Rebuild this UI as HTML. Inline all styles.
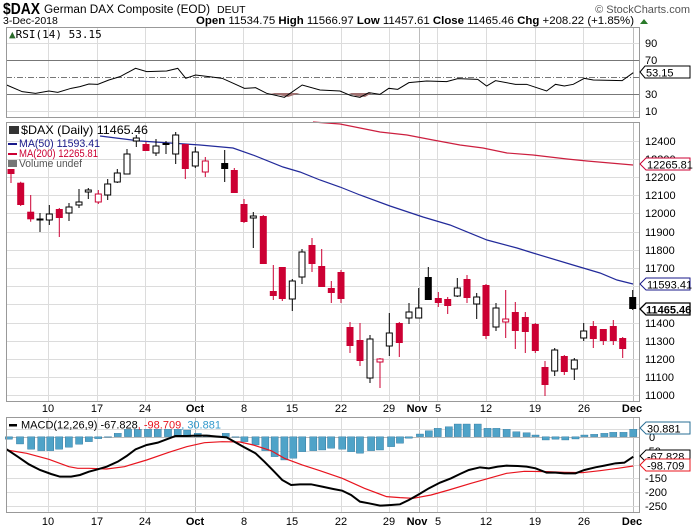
<!DOCTYPE html>
<html><head><meta charset="utf-8"><style>
body{margin:0;background:#fff}
svg{display:block;font-family:"Liberation Sans",sans-serif}
</style></head><body>
<svg width="696" height="532" viewBox="0 0 696 532" xmlns="http://www.w3.org/2000/svg">
<rect width="696" height="532" fill="#fff"/>
<!-- header -->
<text x="3" y="14" font-size="16" font-weight="bold" textLength="37" lengthAdjust="spacingAndGlyphs">$DAX</text>
<text x="44" y="13" font-size="11.5" textLength="166" lengthAdjust="spacingAndGlyphs">German DAX Composite (EOD)</text>
<text x="217" y="13" font-size="10.5">DEUT</text>
<text x="3" y="24" font-size="10.5">3-Dec-2018</text>
<text x="690" y="13" font-size="11" fill="#555" text-anchor="end">© StockCharts.com</text>
<text x="196" y="24" font-size="11" textLength="438" lengthAdjust="spacingAndGlyphs"><tspan font-weight="bold">Open</tspan> 11534.75 <tspan font-weight="bold">High</tspan> 11566.97 <tspan font-weight="bold">Low</tspan> 11457.61 <tspan font-weight="bold">Close</tspan> 11465.46 <tspan font-weight="bold">Chg</tspan> +208.22 (+1.85%)</text>
<polygon points="640,24 644,19 648,24" fill="#2a7a2a"/>

<!-- vertical grid -->
<g stroke="#dcdcdc" stroke-width="1">
<path d="M48.5 28V118M97.5 28V118M145.5 28V118M243.5 28V118M292.5 28V118M341.5 28V118M389.5 28V118M437.5 28V118M486.5 28V118M535.5 28V118M583.5 28V118"/>
<path d="M48.5 123V402M97.5 123V402M145.5 123V402M243.5 123V402M292.5 123V402M341.5 123V402M389.5 123V402M437.5 123V402M486.5 123V402M535.5 123V402M583.5 123V402"/>
<path d="M48.5 417V513M97.5 417V513M145.5 417V513M243.5 417V513M292.5 417V513M341.5 417V513M389.5 417V513M437.5 417V513M486.5 417V513M535.5 417V513M583.5 417V513"/>
</g>
<g stroke="#bcbcbc">
<path d="M195.5 28V118M419.5 28V118M633.5 28V118M195.5 123V402M419.5 123V402M633.5 123V402M195.5 417V513M419.5 417V513M633.5 417V513"/>
</g>

<!-- RSI panel -->
<g stroke="#dcdcdc"><path d="M6 43.5H640M6 111.5H640"/></g>
<g stroke="#777"><path d="M6 60.5H640M6 94.5H640"/></g>
<path d="M6 77.5H640" stroke="#777" stroke-dasharray="6,2,1,2"/>
<polygon points="270,93 288,97 300,93" fill="#a07070"/>
<polygon points="349,93 356,96 365,97 372,93" fill="#a07070"/>
<g transform="scale(0.4444,0.3333)">
<polyline fill="none" stroke="#000" stroke-width="1" vector-effect="non-scaling-stroke" points="15,255 50,275 80,280 110,273 130,277 160,265 180,260 200,252 220,253 245,240 270,230 305,205 330,215 375,213 400,205 418,235 440,225 470,230 500,235 525,250 550,265 575,263 600,280 640,292 680,255 720,270 765,273 790,287 810,292 830,278 855,283 875,265 895,268 920,248 960,243 1005,245 1030,236 1075,238 1095,258 1115,242 1160,253 1185,253 1230,273 1250,253 1270,258 1290,253 1315,235 1335,240 1400,242 1425,218"/>
</g>
<rect x="6.5" y="27.5" width="633" height="90" fill="none" stroke="#999"/>
<text x="9" y="38" font-size="11" font-family="'DejaVu Sans Mono',monospace" fill="#000"><tspan fill="#2a6a2a">▲</tspan>RSI(14) 53.15</text>
<g font-size="11" fill="#000">
<text x="645" y="47">90</text><text x="645" y="64">70</text><text x="645" y="98">30</text><text x="645" y="115">10</text>
</g>
<polygon points="640,72 645,66 690,66 690,78 645,78" fill="#fff" stroke="#000"/>
<text x="646" y="76.5" font-size="11">53.15</text>

<!-- MAIN panel grid -->
<g stroke="#dcdcdc"><path d="M6 395.5H640M6 377.5H640M6 359.5H640M6 341.5H640M6 323.5H640M6 304.5H640M6 286.5H640M6 268.5H640M6 250.5H640M6 232.5H640M6 213.5H640M6 195.5H640M6 177.5H640M6 159.5H640M6 141.5H640"/></g>

<!-- MA lines -->
<polyline fill="none" stroke="#cc1f3f" stroke-width="1.2" points="313,122 340,124 360,128 380,132 407,135 433,140 460,145 483,148 507,153 533,155 567,159 587,161 610,163 633,165"/>
<polyline fill="none" stroke="#222a9a" stroke-width="1.2" points="100,136 140,141 200,145 233,148 253,155 283,167 300,172 320,180 340,187 360,195 390,206 423,217 450,225 487,240 517,248 533,253 573,265 600,273 617,280 633,284"/>

<!-- candles wicks -->
<g stroke-width="1">
<path stroke="#cc0033" d="M11 169V183M20.7 181.7V206M30.7 195V221.7M59.3 208V237M146 142V151M185.3 144V179M234.3 168V193M244 199V223M263.3 215V264M273.3 265V300M282.3 267V301M312 238V272M321.7 249V287M331.3 281V303M341 270V303M350 322V353M360 323V366M399.3 322V357M438.3 292V307M447.7 297V314M467 275V303M486 284V339M515.3 302V349M525.3 312V353M535.3 323V353M545 361V396M564.3 355V375M593.3 321V348M603.3 329V345M613.3 320V345M622.7 337V358M98.3 190V204M205.3 157V177M380 358V388M505.7 290V338"/>
<path stroke="#000" d="M40 213V232M49.3 205V225M69 203V221M79 189V208M88.3 188V199M107.7 179V200M117.3 169V183M127 149V174M136.3 135V147M156 139V156M166 141V154M175.7 132V164M195.3 147V168M224.7 150V182M253.3 212V248M292.3 279V311M302 249V284M370 335V383M389.3 313V356M409 303V324M418.7 288V318M428.3 267V300M457.3 278V297M476.7 293V319M496 303V331M554.7 348V376M574.3 358V380M583.7 323V341M632.7 290V310"/>
</g>
<g fill="#cc0033">
<rect x="7.5" y="169" width="7" height="5"/>
<rect x="17.2" y="182.7" width="7" height="22.3"/>
<rect x="27.2" y="211.7" width="7" height="7.6"/>
<rect x="55.8" y="209" width="7" height="9"/>
<rect x="142.5" y="144" width="7" height="7"/>
<rect x="181.8" y="144" width="7" height="25"/>
<rect x="230.8" y="170" width="7" height="23"/>
<rect x="240.5" y="204" width="7" height="18"/>
<rect x="259.8" y="216" width="7" height="48"/>
<rect x="269.8" y="291" width="7" height="5"/>
<rect x="278.8" y="267" width="7" height="32"/>
<rect x="308.5" y="245" width="7" height="19"/>
<rect x="318.2" y="266" width="7" height="21"/>
<rect x="327.8" y="288" width="7" height="5"/>
<rect x="337.5" y="272" width="7" height="27"/>
<rect x="346.5" y="327" width="7" height="19"/>
<rect x="356.5" y="340" width="7" height="21"/>
<rect x="395.8" y="323" width="7" height="20"/>
<rect x="434.8" y="298" width="7" height="5"/>
<rect x="444.2" y="299" width="7" height="7"/>
<rect x="463.5" y="279" width="7" height="19"/>
<rect x="482.5" y="285" width="7" height="51"/>
<rect x="511.8" y="312" width="7" height="19"/>
<rect x="521.8" y="317" width="7" height="15"/>
<rect x="531.8" y="324" width="7" height="27"/>
<rect x="541.5" y="367" width="7" height="18"/>
<rect x="560.8" y="356" width="7" height="16"/>
<rect x="589.8" y="326" width="7" height="13"/>
<rect x="599.8" y="329" width="7" height="12"/>
<rect x="609.8" y="326" width="7" height="15"/>
<rect x="619.2" y="338" width="7" height="11"/>
</g>
<g fill="#fff" stroke="#cc0033">
<rect x="95.3" y="194" width="6" height="8"/>
<rect x="202.3" y="161" width="6" height="11"/>
<rect x="377" y="359" width="6" height="3"/>
<rect x="502.7" y="319" width="6" height="3"/>
</g>
<g fill="#fff" stroke="#000">
<rect x="37" y="219" width="6" height="1"/>
<rect x="46.3" y="214" width="6" height="6"/>
<rect x="66" y="207" width="6" height="6"/>
<rect x="76" y="202" width="6" height="3"/>
<rect x="85.3" y="190" width="6" height="2"/>
<rect x="104.7" y="184" width="6" height="11"/>
<rect x="114.3" y="173" width="6" height="9"/>
<rect x="124" y="154" width="6" height="20"/>
<rect x="133.3" y="138" width="6" height="3"/>
<rect x="153" y="146" width="6" height="7"/>
<rect x="172.7" y="135" width="6" height="19"/>
<rect x="192.3" y="152" width="6" height="14"/>
<rect x="250.3" y="216" width="6" height="2"/>
<rect x="289.3" y="281" width="6" height="18"/>
<rect x="299" y="252" width="6" height="25"/>
<rect x="367" y="339" width="6" height="39"/>
<rect x="386.3" y="333" width="6" height="13"/>
<rect x="406" y="312" width="6" height="6"/>
<rect x="415.7" y="308" width="6" height="10"/>
<rect x="454.3" y="288" width="6" height="8"/>
<rect x="473.7" y="297" width="6" height="7"/>
<rect x="493" y="308" width="6" height="19"/>
<rect x="551.7" y="350" width="6" height="21"/>
<rect x="571.3" y="360" width="6" height="9"/>
<rect x="580.7" y="331" width="6" height="7"/>
</g>
<g fill="#000">
<rect x="162.5" y="143" width="7" height="2"/>
<rect x="221.2" y="163" width="7" height="6"/>
<rect x="424.8" y="277" width="7" height="23"/>
<rect x="629.2" y="297" width="7" height="12"/>
</g>

<rect x="6.5" y="122.5" width="633" height="279" fill="none" stroke="#999"/>
<!-- main legend -->
<g font-size="11">
<rect x="9" y="126" width="10" height="8" fill="#333"/>
<text x="21" y="134" font-size="12" textLength="127" lengthAdjust="spacingAndGlyphs">$DAX (Daily) 11465.46</text>
<rect x="8" y="143" width="9" height="2" fill="#1a1a8a"/>
<text x="19" y="147" fill="#1a1a8a" textLength="81" lengthAdjust="spacingAndGlyphs">MA(50) 11593.41</text>
<rect x="8" y="153" width="9" height="2" fill="#cc0033"/>
<text x="19" y="157" fill="#cc0033" textLength="79" lengthAdjust="spacingAndGlyphs">MA(200) 12265.81</text>
<rect x="8" y="160" width="9" height="7" fill="#777"/>
<text x="19" y="167" fill="#555" textLength="63" lengthAdjust="spacingAndGlyphs">Volume undef</text>
</g>
<!-- price axis -->
<g font-size="11">
<text x="645" y="145">12400</text><text x="645" y="163">12300</text><text x="645" y="181">12200</text><text x="645" y="199">12100</text><text x="645" y="217">12000</text><text x="645" y="236">11900</text><text x="645" y="254">11800</text><text x="645" y="272">11700</text><text x="645" y="327">11400</text><text x="645" y="345">11300</text><text x="645" y="363">11200</text><text x="645" y="381">11100</text><text x="645" y="399">11000</text>
</g>
<polygon points="640,164 646,158 690,158 690,170 646,170" fill="#fff" stroke="#cc0033"/>
<text x="647" y="168.5" font-size="11">12265.81</text>
<polygon points="640,284 646,278 690,278 690,290 646,290" fill="#fff" stroke="#1a1a8a"/>
<text x="647" y="288.5" font-size="11">11593.41</text>
<polygon points="640,309 646,303 690,303 690,315 646,315" fill="#fff" stroke="#000" stroke-width="1.3"/>
<text x="646" y="313.5" font-size="11" font-weight="bold">11465.46</text>
<g font-size="11" text-anchor="middle">
<text x="48" y="412">10</text><text x="97" y="412">17</text><text x="145" y="412">24</text><text x="195" y="412" font-weight="bold">Oct</text><text x="244" y="412">8</text><text x="292" y="412">15</text><text x="341" y="412">22</text><text x="389" y="412">29</text><text x="417" y="412" font-weight="bold">Nov</text><text x="438" y="412">5</text><text x="486" y="412">12</text><text x="535" y="412">19</text><text x="584" y="412">26</text><text x="632" y="412" font-weight="bold">Dec</text>
</g>

<!-- MACD panel -->
<g stroke="#dcdcdc"><path d="M6 429.5H640M6 451.5H640M6 465.5H640M6 478.5H640M6 492.5H640M6 506.5H640"/></g>
<path d="M6 437.5H640" stroke="#bbb"/>
<g transform="translate(0,410) scale(0.4444,0.3333)">
<g fill="#4fa3c8" stroke="#2a6f96" stroke-width="1" vector-effect="non-scaling-stroke">
<rect x="12" y="80" width="16" height="8"/><rect x="37" y="80" width="16" height="22"/><rect x="62" y="80" width="16" height="38"/><rect x="85" y="80" width="16" height="42"/><rect x="105" y="80" width="16" height="42"/><rect x="125" y="80" width="16" height="38"/><rect x="147" y="80" width="16" height="32"/><rect x="170" y="80" width="16" height="23"/><rect x="192" y="80" width="16" height="15"/><rect x="213" y="80" width="16" height="6"/><rect x="235" y="80" width="16" height="2"/><rect x="257" y="70" width="16" height="10"/><rect x="280" y="58" width="16" height="22"/><rect x="302" y="58" width="16" height="22"/><rect x="325" y="58" width="16" height="22"/><rect x="347" y="58" width="16" height="22"/><rect x="370" y="58" width="16" height="22"/><rect x="392" y="58" width="16" height="22"/><rect x="413" y="60" width="16" height="20"/><rect x="437" y="70" width="16" height="10"/><rect x="457" y="75" width="16" height="5"/><rect x="480" y="78" width="16" height="2"/><rect x="500" y="70" width="16" height="10"/><rect x="522" y="80" width="16" height="2"/><rect x="542" y="80" width="16" height="15"/><rect x="567" y="80" width="16" height="25"/><rect x="589" y="80" width="16" height="42"/><rect x="610" y="80" width="16" height="60"/><rect x="632" y="80" width="16" height="70"/><rect x="652" y="80" width="16" height="65"/><rect x="672" y="80" width="16" height="45"/><rect x="697" y="80" width="16" height="42"/><rect x="717" y="80" width="16" height="40"/><rect x="737" y="80" width="16" height="35"/><rect x="762" y="80" width="16" height="38"/><rect x="782" y="80" width="16" height="45"/><rect x="802" y="80" width="16" height="50"/><rect x="827" y="80" width="16" height="42"/><rect x="847" y="80" width="16" height="40"/><rect x="872" y="80" width="16" height="30"/><rect x="892" y="80" width="16" height="20"/><rect x="912" y="80" width="16" height="5"/><rect x="937" y="72" width="16" height="8"/><rect x="957" y="62" width="16" height="18"/><rect x="977" y="55" width="16" height="25"/><rect x="1002" y="50" width="16" height="30"/><rect x="1022" y="42" width="16" height="38"/><rect x="1042" y="42" width="16" height="38"/><rect x="1067" y="42" width="16" height="38"/><rect x="1089" y="55" width="16" height="25"/><rect x="1109" y="55" width="16" height="25"/><rect x="1132" y="58" width="16" height="22"/><rect x="1154" y="65" width="16" height="15"/><rect x="1177" y="68" width="16" height="12"/><rect x="1197" y="75" width="16" height="5"/><rect x="1220" y="80" width="16" height="10"/><rect x="1242" y="80" width="16" height="8"/><rect x="1264" y="80" width="16" height="10"/><rect x="1287" y="80" width="16" height="7"/><rect x="1307" y="75" width="16" height="5"/><rect x="1329" y="73" width="16" height="7"/><rect x="1352" y="70" width="16" height="10"/><rect x="1372" y="67" width="16" height="13"/><rect x="1395" y="67" width="16" height="13"/><rect x="1417" y="58" width="16" height="22"/>
</g>
<polyline fill="none" stroke="#e8141e" stroke-width="1.2" vector-effect="non-scaling-stroke" points="15,120 60,130 110,148 155,170 175,175 200,175 240,177 280,170 330,150 380,127 420,110 460,98 500,95 540,96 570,105 610,122 640,145 680,165 720,182 770,205 820,235 870,260 900,263 930,265 970,255 1010,240 1060,220 1100,205 1140,190 1180,184 1230,185 1270,187 1310,188 1350,182 1390,175 1425,168"/>
<polyline fill="none" stroke="#000" stroke-width="2" vector-effect="non-scaling-stroke" points="15,118 40,140 65,163 90,180 115,192 135,200 160,200 180,195 200,185 220,178 240,170 265,155 285,138 305,118 330,105 355,98 375,88 395,78 420,78 440,77 465,77 490,80 510,82 530,97 550,112 575,130 595,155 615,182 635,210 655,225 675,223 700,223 725,230 750,237 770,242 790,255 810,275 830,280 855,287 880,285 900,283 920,270 940,255 965,235 990,218 1015,205 1035,192 1055,180 1080,172 1100,175 1120,170 1140,167 1165,168 1185,170 1205,175 1230,188 1250,188 1270,190 1295,190 1315,180 1340,172 1360,167 1385,160 1405,158 1425,140"/>
</g>
<rect x="6.5" y="417.5" width="633" height="95" fill="none" stroke="#999"/>
<rect x="9" y="424" width="8" height="2.5" fill="#000"/>
<text x="21" y="428.5" font-size="11"><tspan>MACD(12,26,9) -67.828</tspan><tspan fill="#e8141e">, -98.709</tspan><tspan fill="#3399cc">, 30.881</tspan></text>
<g font-size="11">
<text x="647" y="433">50</text><text x="649" y="441">0</text><text x="645" y="455">-50</text><text x="645" y="482">-150</text><text x="645" y="496">-200</text><text x="645" y="510">-250</text>
</g>
<polygon points="640,428 646,422 690,422 690,434 646,434" fill="#fff" stroke="#2a6f96"/>
<text x="647" y="432.5" font-size="11">30.881</text>
<polygon points="640,456 646,450 690,450 690,462 646,462" fill="#fff" stroke="#000"/>
<text x="647" y="460.5" font-size="11">-67.828</text>
<polygon points="640,465 646,459 690,459 690,471 646,471" fill="#fff" stroke="#e8141e"/>
<text x="647" y="469.5" font-size="11">-98.709</text>
<g font-size="11" text-anchor="middle">
<text x="48" y="525">10</text><text x="97" y="525">17</text><text x="145" y="525">24</text><text x="195" y="525" font-weight="bold">Oct</text><text x="244" y="525">8</text><text x="292" y="525">15</text><text x="341" y="525">22</text><text x="389" y="525">29</text><text x="417" y="525" font-weight="bold">Nov</text><text x="438" y="525">5</text><text x="486" y="525">12</text><text x="535" y="525">19</text><text x="584" y="525">26</text><text x="632" y="525" font-weight="bold">Dec</text>
</g>
</svg>
</body></html>
